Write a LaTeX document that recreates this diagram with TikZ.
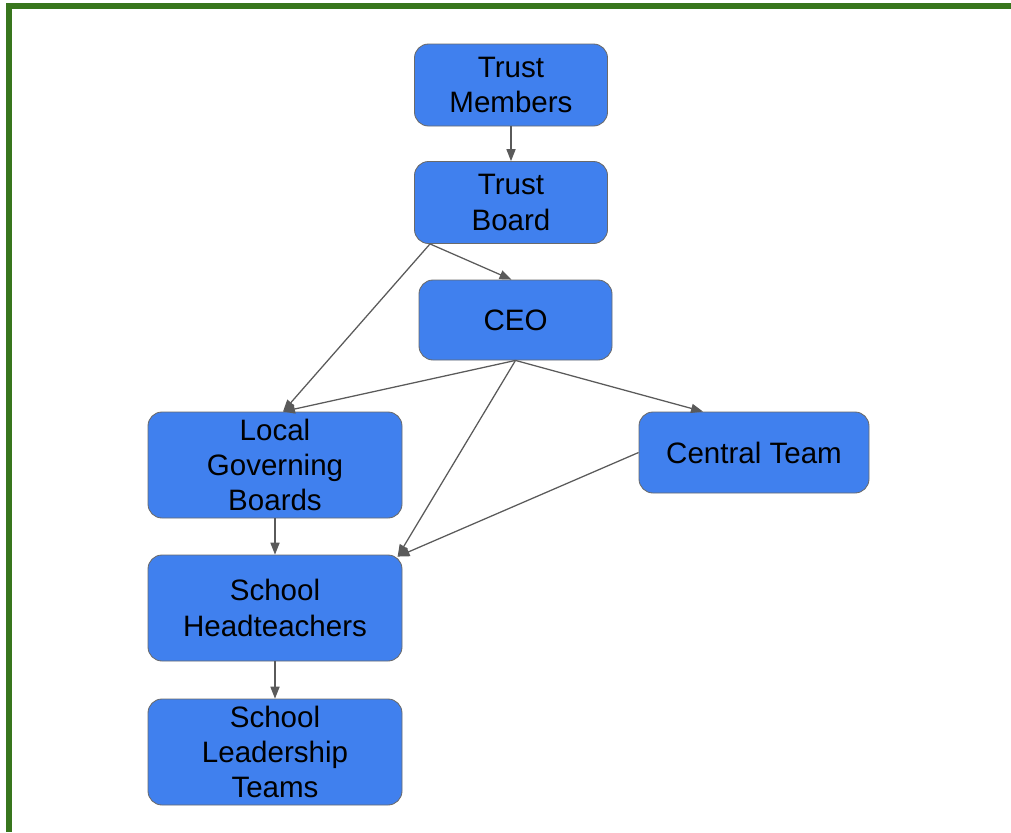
\documentclass[tikz,border=0pt]{standalone}
\usepackage{fontspec}
\setmainfont{Liberation Sans}
\usepackage{xcolor}
\usetikzlibrary{arrows.meta}

\definecolor{boxblue}{HTML}{4080EE}
\definecolor{boxline}{HTML}{6A6A6A}
\definecolor{linkgrey}{HTML}{5A5A5A}
\definecolor{framegreen}{HTML}{38761D}

\begin{document}
\begin{tikzpicture}[
  unit/.style={draw=boxline, line width=0.6pt, fill=boxblue, rounded corners=0.35cm,
    align=center, inner sep=0pt, font=\fontsize{21}{25}\selectfont},
  link/.style={draw=linkgrey, line width=0.9pt, -{Triangle[length=8.5pt,width=6.5pt]}}
 ]
 \useasboundingbox (0,0) rectangle (25.275,-20.8);

 % frame on the left and top edges
 \fill[framegreen] (0.15,-0.075) rectangle (0.3,-20.8);
 \fill[framegreen] (0.15,-0.075) rectangle (25.275,-0.225);

 \node[unit, minimum width=4.825cm, minimum height=2.05cm] (members) at (12.775, -2.125) {Trust\\Members};
 \node[unit, minimum width=4.825cm, minimum height=2.05cm] (board) at (12.775, -5.0625) {Trust\\Board};
 \node[unit, minimum width=4.825cm, minimum height=2cm] (ceo) at (12.8875, -8.0) {CEO};

 \node[unit, minimum width=6.35cm, minimum height=2.65cm] (governing) at (6.875, -11.625) {Local\\Governing\\Boards};
 \node[unit, minimum width=5.75cm, minimum height=2.025cm] (central) at (18.85, -11.3125) {Central Team};

 \node[unit, minimum width=6.35cm, minimum height=2.65cm] (heads) at (6.875, -15.2) {School\\Headteachers};
 \node[unit, minimum width=6.35cm, minimum height=2.65cm] (leaders) at (6.875, -18.8) {School\\Leadership\\Teams};

 \draw[link] (members) -- (board);
 \draw[link] ([xshift=-2.025cm]board.south) -- ([xshift=0.2cm]governing.north);
 \draw[link] ([xshift=-2.025cm]board.south) -- ([xshift=-0.1cm]ceo.north);

 \draw[link] (ceo.south) -- ([xshift=0.2cm]governing.north);
 \draw[link] (ceo.south) -- ([xshift=-1.275cm]central.north);
 \draw[link] (ceo.south) -- ([xshift=-0.12cm,yshift=-0.05cm]heads.north east);
 \draw[link] (central.west) -- ([xshift=-0.12cm,yshift=-0.05cm]heads.north east);

 \draw[link] (governing) -- (heads);
 \draw[link] (heads) -- (leaders);
\end{tikzpicture}
\end{document}
